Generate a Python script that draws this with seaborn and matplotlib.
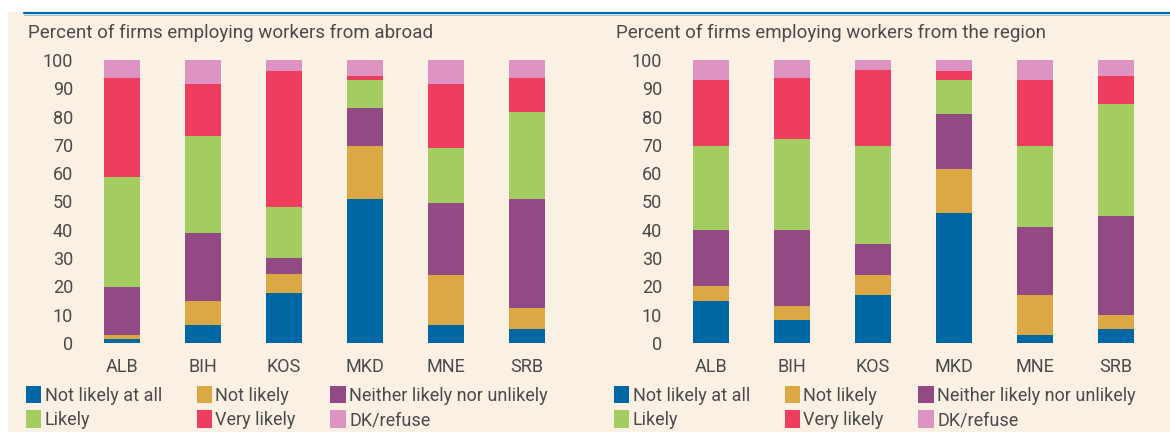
import matplotlib
matplotlib.use("Agg")
import matplotlib.pyplot as plt
import seaborn as sns
import pandas as pd
from matplotlib.patches import Patch, Rectangle
from matplotlib.lines import Line2D

countries = ["ALB", "BIH", "KOS", "MKD", "MNE", "SRB"]
answers = ["Not likely at all", "Not likely", "Neither likely nor unlikely",
           "Likely", "Very likely", "DK/refuse"]
colors = ["#0067a5", "#dba844", "#924a84", "#a3cd60", "#ee3d5f", "#dc93c2"]

# percent of firms employing workers from abroad
abroad_not_at_all = [1.5, 6.5, 17.5, 51, 6.5, 5]
abroad_not_likely = [1.2, 8.5, 7, 18.5, 17.5, 7.5]
abroad_neither = [17, 24, 5.5, 13.5, 25.5, 38.5]
abroad_likely = [39, 34, 18, 10, 19.5, 30.5]
abroad_very = [35, 18.5, 48, 1.5, 22.5, 12]
abroad_dk = [6.3, 8.5, 4, 5.5, 8.5, 6.5]

# percent of firms employing workers from the region
region_not_at_all = [15, 8, 17, 46, 3, 5]
region_not_likely = [5, 5, 7, 15.5, 14, 5]
region_neither = [20, 27, 11, 19.5, 24, 35]
region_likely = [29.5, 32, 34.5, 12, 28.5, 39.5]
region_very = [23.5, 21.5, 27, 3, 23.5, 10]
region_dk = [7, 6.5, 3.5, 4, 7, 5.5]

abroad = pd.DataFrame(dict(zip(answers, [abroad_not_at_all, abroad_not_likely, abroad_neither,
                                          abroad_likely, abroad_very, abroad_dk])), index=countries)
region = pd.DataFrame(dict(zip(answers, [region_not_at_all, region_not_likely, region_neither,
                                          region_likely, region_very, region_dk])), index=countries)

sns.set_style("white")
plt.rcParams["font.family"] = ["Liberation Sans Narrow", "Roboto", "DejaVu Sans"]
bg = "#faf0e4"
txt = "#4a4a4a"

fig = plt.figure(figsize=(11.7, 4.32), dpi=100)
fig.patch.set_facecolor("white")
fig.add_artist(Rectangle((8 / 1170, 0), 1, (432 - 12) / 432, transform=fig.transFigure,
                         facecolor=bg, edgecolor="none", zorder=-10))
fig.add_artist(Line2D([24 / 1170, 1], [(432 - 13) / 432] * 2, color="#0067a5", lw=1.6))
fig.add_artist(Line2D([24 / 1170, 1], [(432 - 14.6) / 432] * 2, color="#9fc3dc", lw=0.7))


def stacked(ax, df, title, title_x):
    cum = df.cumsum(axis=1)
    long = cum.reset_index().rename(columns={"index": "country"})
    for ans, col in reversed(list(zip(answers, colors))):
        sns.barplot(data=long, x="country", y=ans, color=col, saturation=1,
                    width=0.44, ax=ax, linewidth=0)
    ax.set_facecolor(bg)
    ax.set_xlim(-0.5, 5.5)
    ax.set_ylim(0, 100)
    ax.set_yticks(range(0, 101, 10))
    ax.set_xlabel("")
    ax.set_ylabel("")
    sns.despine(ax=ax, left=True, bottom=True)
    ax.tick_params(axis="y", length=0, pad=6, labelsize=13, labelcolor=txt)
    ax.tick_params(axis="x", length=0, pad=11, labelsize=13, labelcolor=txt)
    fig.text(title_x, (432 - 38) / 432, title, fontsize=13.5, color=txt, va="baseline")
    # legend is filled column by column, so reorder to read row by row
    order = [0, 3, 1, 4, 2, 5]
    handles = [Patch(facecolor=colors[i], edgecolor="none") for i in order]
    labels = [answers[i] for i in order]
    ax.legend(handles, labels, ncol=3, loc="upper left",
              bbox_to_anchor=(title_x - 2 / 1170, (432 - 386) / 432),
              bbox_transform=fig.transFigure, frameon=False, fontsize=13,
              handlelength=0.85, handleheight=1.1, handletextpad=0.2,
              columnspacing=1.9, labelspacing=0.3, borderpad=0, borderaxespad=0,
              labelcolor=txt)


ax1 = fig.add_axes([81.5 / 1170, 89 / 432, 486 / 1170, 283 / 432])
ax2 = fig.add_axes([670.5 / 1170, 89 / 432, 486 / 1170, 283 / 432])
stacked(ax1, abroad, "Percent of firms employing workers from abroad", 28 / 1170)
stacked(ax2, region, "Percent of firms employing workers from the region", 616 / 1170)

fig.savefig("out.png", dpi=100, facecolor=fig.get_facecolor())
